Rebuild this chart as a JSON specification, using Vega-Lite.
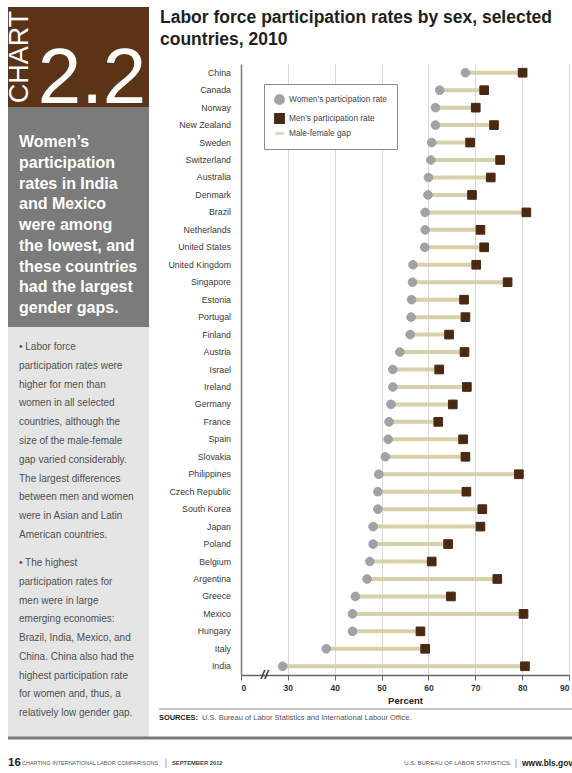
{
  "$schema": "https://vega.github.io/schema/vega-lite/v6.json",
  "background": "white",
  "padding": {"left": 5, "top": 7, "right": 0, "bottom": 0},
  "spacing": -4,
  "datasets": {
    "rates": [
      {"country": "China", "women": 67.9, "men": 80.1},
      {"country": "Canada", "women": 62.4, "men": 71.9},
      {"country": "Norway", "women": 61.5, "men": 70.1},
      {"country": "New Zealand", "women": 61.5, "men": 74.0},
      {"country": "Sweden", "women": 60.7, "men": 68.9},
      {"country": "Switzerland", "women": 60.5, "men": 75.3},
      {"country": "Australia", "women": 60.0, "men": 73.3},
      {"country": "Denmark", "women": 59.9, "men": 69.3},
      {"country": "Brazil", "women": 59.3, "men": 80.9},
      {"country": "Netherlands", "women": 59.3, "men": 71.1},
      {"country": "United States", "women": 59.2, "men": 71.9},
      {"country": "United Kingdom", "women": 56.7, "men": 70.2},
      {"country": "Singapore", "women": 56.6, "men": 76.9},
      {"country": "Estonia", "women": 56.4, "men": 67.6},
      {"country": "Portugal", "women": 56.3, "men": 67.9},
      {"country": "Finland", "women": 56.1, "men": 64.4},
      {"country": "Austria", "women": 53.9, "men": 67.7},
      {"country": "Israel", "women": 52.4, "men": 62.3},
      {"country": "Ireland", "women": 52.4, "men": 68.2},
      {"country": "Germany", "women": 52.0, "men": 65.2},
      {"country": "France", "women": 51.6, "men": 62.1},
      {"country": "Spain", "women": 51.4, "men": 67.4},
      {"country": "Slovakia", "women": 50.8, "men": 67.9},
      {"country": "Philippines", "women": 49.4, "men": 79.3},
      {"country": "Czech Republic", "women": 49.2, "men": 68.1},
      {"country": "South Korea", "women": 49.2, "men": 71.5},
      {"country": "Japan", "women": 48.2, "men": 71.1},
      {"country": "Poland", "women": 48.2, "men": 64.2},
      {"country": "Belgium", "women": 47.5, "men": 60.7},
      {"country": "Argentina", "women": 46.9, "men": 74.7},
      {"country": "Greece", "women": 44.4, "men": 64.8},
      {"country": "Mexico", "women": 43.8, "men": 80.3},
      {"country": "Hungary", "women": 43.8, "men": 58.3},
      {"country": "Italy", "women": 38.2, "men": 59.3},
      {"country": "India", "women": 28.9, "men": 80.6}
    ],
    "badge": [
      {"part": "label", "text": "CHART"},
      {"part": "number", "text": "2.2"}
    ],
    "headline": [
      {"line": 1, "text": "Women’s"},
      {"line": 2, "text": "participation"},
      {"line": 3, "text": "rates in India"},
      {"line": 4, "text": "and Mexico"},
      {"line": 5, "text": "were among"},
      {"line": 6, "text": "the lowest, and"},
      {"line": 7, "text": "these countries"},
      {"line": 8, "text": "had the largest"},
      {"line": 9, "text": "gender gaps."}
    ],
    "notes": [
      {"para": 1, "line": 1, "text": "•  Labor force"},
      {"para": 1, "line": 2, "text": "participation rates were"},
      {"para": 1, "line": 3, "text": "higher for men than"},
      {"para": 1, "line": 4, "text": "women in all selected"},
      {"para": 1, "line": 5, "text": "countries, although the"},
      {"para": 1, "line": 6, "text": "size of the male-female"},
      {"para": 1, "line": 7, "text": "gap varied considerably."},
      {"para": 1, "line": 8, "text": "The largest differences"},
      {"para": 1, "line": 9, "text": "between men and women"},
      {"para": 1, "line": 10, "text": "were in Asian and Latin"},
      {"para": 1, "line": 11, "text": "American countries."},
      {"para": 2, "line": 1, "text": "•  The highest"},
      {"para": 2, "line": 2, "text": "participation rates for"},
      {"para": 2, "line": 3, "text": "men were in large"},
      {"para": 2, "line": 4, "text": "emerging economies:"},
      {"para": 2, "line": 5, "text": "Brazil, India, Mexico, and"},
      {"para": 2, "line": 6, "text": "China. China also had the"},
      {"para": 2, "line": 7, "text": "highest participation rate"},
      {"para": 2, "line": 8, "text": "for women and, thus, a"},
      {"para": 2, "line": 9, "text": "relatively low gender gap."}
    ],
    "heading": [
      {"line": 1, "text": "Labor force participation rates by sex, selected"},
      {"line": 2, "text": "countries, 2010"}
    ],
    "sources": [
      {"part": "label", "text": "SOURCES:"},
      {"part": "body", "text": "U.S. Bureau of Labor Statistics and International Labour Office."}
    ],
    "footer": [
      {"piece": "page", "text": "16"},
      {"piece": "publication", "text": "CHARTING INTERNATIONAL LABOR COMPARISONS"},
      {"piece": "sep1", "text": "|"},
      {"piece": "date", "text": "SEPTEMBER 2012"},
      {"piece": "agency", "text": "U.S. BUREAU OF LABOR STATISTICS"},
      {"piece": "sep2", "text": "|"},
      {"piece": "site", "text": "www.bls.gov"}
    ]
  },
  "vconcat": [
    {
      "spacing": 9,
      "hconcat": [
        {
          "bounds": "flush",
          "spacing": 0,
          "vconcat": [
            {
              "width": 141,
              "height": 100,
              "view": {"fill": "#5b3418", "stroke": null},
              "data": {"name": "badge"},
              "layer": [
                {
                  "transform": [{"filter": "datum.part == 'label'"}],
                  "mark": {"type": "text", "angle": 270, "align": "center", "baseline": "alphabetic", "font": "Liberation Sans", "fontSize": 27, "color": "#ffffff", "dx": 50, "dy": 20},
                  "encoding": {
                    "x": {"datum": 0, "type": "quantitative", "scale": {"domain": [0, 1], "nice": false, "zero": false}, "axis": null},
                    "y": {"datum": 0, "type": "quantitative", "scale": {"domain": [0, 1], "nice": false, "zero": false}, "axis": null},
                    "text": {"field": "text"}
                  }
                },
                {
                  "transform": [{"filter": "datum.part == 'number'"}],
                  "mark": {"type": "text", "align": "center", "baseline": "alphabetic", "font": "Liberation Sans", "fontSize": 78, "color": "#ffffff", "dx": 84, "dy": -4},
                  "encoding": {
                    "x": {"datum": 0, "type": "quantitative", "scale": {"domain": [0, 1], "nice": false, "zero": false}, "axis": null},
                    "y": {"datum": 0, "type": "quantitative", "scale": {"domain": [0, 1], "nice": false, "zero": false}, "axis": null},
                    "text": {"field": "text"}
                  }
                }
              ]
            },
            {
              "width": 141,
              "height": 220,
              "view": {"fill": "#7b7b7b", "stroke": null},
              "data": {"name": "headline"},
              "mark": {"type": "text", "align": "left", "baseline": "alphabetic", "font": "Liberation Sans", "fontWeight": "bold", "fontSize": 16, "color": "#ffffff", "dx": 11},
              "encoding": {
                "x": {"datum": 0, "type": "quantitative", "scale": {"domain": [0, 1], "nice": false, "zero": false}, "axis": null},
                "y": {"field": "line", "type": "ordinal", "scale": {"type": "point", "range": [40, 206], "padding": 0}, "axis": null},
                "text": {"field": "text"}
              }
            },
            {
              "width": 141,
              "height": 411,
              "view": {"fill": "#e5e5e5", "stroke": null},
              "data": {"name": "notes"},
              "layer": [
                {
                  "transform": [{"filter": "datum.para == 1"}],
                  "mark": {"type": "text", "align": "left", "baseline": "alphabetic", "font": "Liberation Sans", "fontSize": 10, "color": "#505050", "dx": 11},
                  "encoding": {
                    "x": {"datum": 0, "type": "quantitative", "scale": {"domain": [0, 1], "nice": false, "zero": false}, "axis": null},
                    "y": {"field": "line", "type": "ordinal", "scale": {"type": "point", "range": [23, 211], "padding": 0}, "axis": null},
                    "text": {"field": "text"}
                  }
                },
                {
                  "transform": [{"filter": "datum.para == 2"}],
                  "mark": {"type": "text", "align": "left", "baseline": "alphabetic", "font": "Liberation Sans", "fontSize": 10, "color": "#505050", "dx": 11},
                  "encoding": {
                    "x": {"datum": 0, "type": "quantitative", "scale": {"domain": [0, 1], "nice": false, "zero": false}, "axis": null},
                    "y": {"field": "line", "type": "ordinal", "scale": {"type": "point", "range": [239, 389], "padding": 0}, "axis": null},
                    "text": {"field": "text"}
                  }
                }
              ],
              "resolve": {"scale": {"y": "independent"}}
            }
          ]
        },
        {
          "spacing": 3,
          "vconcat": [
            {
              "width": 415,
              "height": 54,
              "data": {"name": "heading"},
              "mark": {"type": "text", "align": "left", "baseline": "alphabetic", "font": "Liberation Sans", "fontWeight": "bold", "fontSize": 17.5, "color": "#231f20", "dx": 1},
              "encoding": {
                "x": {"datum": 0, "type": "quantitative", "scale": {"domain": [0, 1], "nice": false, "zero": false}, "axis": null},
                "y": {"field": "line", "type": "ordinal", "scale": {"type": "point", "range": [15.7, 38], "padding": 0}, "axis": null},
                "text": {"field": "text"}
              }
            },
            {
              "bounds": "flush",
              "spacing": 0,
              "hconcat": [
                {
                  "width": 82,
                  "height": 611,
                  "data": {"name": "rates"},
                  "mark": {"type": "text", "align": "right", "baseline": "middle", "font": "Liberation Sans", "fontSize": 8.8, "color": "#3a3a3a", "dx": -10},
                  "encoding": {
                    "x": {"datum": 1, "type": "quantitative", "scale": {"domain": [0, 1], "nice": false, "zero": false}, "axis": null},
                    "y": {"field": "country", "type": "nominal", "sort": null, "scale": {"type": "point", "padding": 0.5}, "axis": null},
                    "text": {"field": "country"}
                  }
                },
                {
                  "width": 328,
                  "height": 611,
                  "data": {"name": "rates"},
                  "layer": [
                    {
                      "mark": {"type": "rule", "color": "#d7d0a9", "strokeWidth": 4},
                      "encoding": {
                        "y": {"field": "country", "type": "nominal", "sort": null, "scale": {"paddingInner": 0, "paddingOuter": 0}, "axis": {"labels": false, "ticks": false, "title": null, "grid": false, "domainColor": "#7a7a7a", "domainWidth": 1.5}},
                        "x": {"field": "women", "type": "quantitative", "scale": {"domain": [20, 90], "nice": false, "zero": false}, "axis": {"title": "Percent", "values": [20, 30, 40, 50, 60, 70, 80, 90], "labelExpr": "datum.value == 20 ? '0' : datum.label", "grid": true, "gridColor": "#dadada", "gridWidth": 1, "domainColor": "#666666", "domainWidth": 1.5, "tickColor": "#666666", "tickSize": 5, "labelFont": "Liberation Sans", "labelFontWeight": "bold", "labelFontSize": 8.5, "labelColor": "#333333", "labelPadding": 3, "titleFont": "Liberation Sans", "titleFontWeight": "bold", "titleFontSize": 9.5, "titleColor": "#222222", "titlePadding": 4}},
                        "x2": {"field": "men"}
                      }
                    },
                    {
                      "transform": [{"fold": ["women", "men"], "as": ["series", "rate"]}],
                      "mark": {"type": "point", "filled": true, "opacity": 1, "size": 75, "strokeWidth": 1},
                      "encoding": {
                        "y": {"field": "country", "type": "nominal", "sort": null, "scale": {"paddingInner": 0, "paddingOuter": 0}, "axis": {"labels": false, "ticks": false, "title": null, "grid": false, "domainColor": "#7a7a7a", "domainWidth": 1.5}},
                        "x": {"field": "rate", "type": "quantitative", "axis": {"title": "Percent", "values": [20, 30, 40, 50, 60, 70, 80, 90], "labelExpr": "datum.value == 20 ? '0' : datum.label", "grid": true, "gridColor": "#dadada", "gridWidth": 1, "domainColor": "#666666", "domainWidth": 1.5, "tickColor": "#666666", "tickSize": 5, "labelFont": "Liberation Sans", "labelFontWeight": "bold", "labelFontSize": 8.5, "labelColor": "#333333", "labelPadding": 3, "titleFont": "Liberation Sans", "titleFontWeight": "bold", "titleFontSize": 9.5, "titleColor": "#222222", "titlePadding": 4}},
                        "shape": {"field": "series", "type": "nominal", "scale": {"domain": ["women", "men", "gap"], "range": ["circle", "square", "stroke"]}, "legend": {"title": null, "orient": "none", "legendX": 256, "legendY": 77, "padding": 10, "strokeColor": "#8a8a8a", "fillColor": "#ffffff", "labelFont": "Liberation Sans", "labelFontSize": 8.3, "labelColor": "#444444", "rowPadding": 0, "symbolSize": 70, "symbolStrokeWidth": 2.5, "labelExpr": "datum.label == 'women' ? 'Women’s participation rate' : datum.label == 'men' ? 'Men’s participation rate' : 'Male-female gap'"}},
                        "fill": {"field": "series", "type": "nominal", "scale": {"domain": ["women", "men", "gap"], "range": ["#a2a2a6", "#4a2912", "#d7d0a9"]}, "legend": {"title": null, "orient": "none", "legendX": 256, "legendY": 77, "padding": 10, "strokeColor": "#8a8a8a", "fillColor": "#ffffff", "labelFont": "Liberation Sans", "labelFontSize": 8.3, "labelColor": "#444444", "rowPadding": 0, "symbolSize": 70, "symbolStrokeWidth": 2.5, "labelExpr": "datum.label == 'women' ? 'Women’s participation rate' : datum.label == 'men' ? 'Men’s participation rate' : 'Male-female gap'"}},
                        "stroke": {"field": "series", "type": "nominal", "scale": {"domain": ["women", "men", "gap"], "range": ["#a2a2a6", "#4a2912", "#d7d0a9"]}, "legend": {"title": null, "orient": "none", "legendX": 256, "legendY": 77, "padding": 10, "strokeColor": "#8a8a8a", "fillColor": "#ffffff", "labelFont": "Liberation Sans", "labelFontSize": 8.3, "labelColor": "#444444", "rowPadding": 0, "symbolSize": 70, "symbolStrokeWidth": 2.5, "labelExpr": "datum.label == 'women' ? 'Women’s participation rate' : datum.label == 'men' ? 'Men’s participation rate' : 'Male-female gap'"}}
                      }
                    },
                    {
                      "data": {"values": [{"symbol": "//"}]},
                      "mark": {"type": "text", "font": "Liberation Sans", "fontSize": 13, "fontWeight": "bold", "fontStyle": "italic", "color": "#333333", "baseline": "middle", "align": "center", "dy": 9},
                      "encoding": {
                        "x": {"datum": 25, "type": "quantitative"},
                        "y": {"datum": "India", "type": "nominal"},
                        "text": {"field": "symbol"}
                      }
                    }
                  ]
                }
              ]
            },
            {
              "width": 415,
              "height": 24,
              "data": {"name": "sources"},
              "layer": [
                {
                  "transform": [{"filter": "datum.part == 'label'"}],
                  "mark": {"type": "rule", "color": "#c4c4c4", "strokeWidth": 2},
                  "encoding": {
                    "x": {"datum": 0, "type": "quantitative", "scale": {"domain": [0, 1], "nice": false, "zero": false}, "axis": null},
                    "x2": {"datum": 1},
                    "y": {"datum": 1, "type": "quantitative", "scale": {"domain": [0, 1], "nice": false, "zero": false}, "axis": null}
                  }
                },
                {
                  "transform": [{"filter": "datum.part == 'label'"}],
                  "mark": {"type": "text", "align": "left", "baseline": "alphabetic", "font": "Liberation Sans", "fontWeight": "bold", "fontSize": 7.4, "color": "#222222", "dy": 11},
                  "encoding": {
                    "x": {"datum": 0, "type": "quantitative", "scale": {"domain": [0, 1], "nice": false, "zero": false}, "axis": null},
                    "y": {"datum": 1, "type": "quantitative", "scale": {"domain": [0, 1], "nice": false, "zero": false}, "axis": null},
                    "text": {"field": "text"}
                  }
                },
                {
                  "transform": [{"filter": "datum.part == 'body'"}],
                  "mark": {"type": "text", "align": "left", "baseline": "alphabetic", "font": "Liberation Sans", "fontSize": 7.5, "color": "#555555", "dx": 43, "dy": 11},
                  "encoding": {
                    "x": {"datum": 0, "type": "quantitative", "scale": {"domain": [0, 1], "nice": false, "zero": false}, "axis": null},
                    "y": {"datum": 1, "type": "quantitative", "scale": {"domain": [0, 1], "nice": false, "zero": false}, "axis": null},
                    "text": {"field": "text"}
                  }
                }
              ]
            }
          ]
        }
      ]
    },
    {
      "width": 567,
      "height": 33,
      "data": {"name": "footer"},
      "encoding": {
        "x": {"datum": 0, "type": "quantitative", "scale": {"domain": [0, 1], "nice": false, "zero": false}, "axis": null},
        "y": {"datum": 1, "type": "quantitative", "scale": {"domain": [0, 1], "nice": false, "zero": false}, "axis": null},
        "text": {"field": "text"}
      },
      "layer": [
        {
          "transform": [{"filter": "datum.piece == 'page'"}],
          "mark": {"type": "rule", "color": "#7a7a7a", "strokeWidth": 3},
          "encoding": {"x2": {"datum": 1}, "text": null}
        },
        {
          "transform": [{"filter": "datum.piece == 'page'"}],
          "mark": {"type": "text", "align": "left", "baseline": "alphabetic", "font": "Liberation Sans", "fontWeight": "bold", "fontSize": 11.5, "color": "#222222", "dy": 28}
        },
        {
          "transform": [{"filter": "datum.piece == 'publication'"}],
          "mark": {"type": "text", "align": "left", "baseline": "alphabetic", "font": "Liberation Sans", "fontSize": 5.5, "color": "#555555", "dx": 14, "dy": 27}
        },
        {
          "transform": [{"filter": "datum.piece == 'sep1'"}],
          "mark": {"type": "text", "align": "center", "baseline": "alphabetic", "font": "Liberation Sans", "fontSize": 9, "color": "#888888", "dx": 158, "dy": 28}
        },
        {
          "transform": [{"filter": "datum.piece == 'date'"}],
          "mark": {"type": "text", "align": "left", "baseline": "alphabetic", "font": "Liberation Sans", "fontWeight": "bold", "fontSize": 5.8, "color": "#444444", "dx": 164, "dy": 27}
        },
        {
          "transform": [{"filter": "datum.piece == 'agency'"}],
          "mark": {"type": "text", "align": "right", "baseline": "alphabetic", "font": "Liberation Sans", "fontSize": 6, "color": "#555555", "dx": -65, "dy": 27},
          "encoding": {"x": {"datum": 1, "type": "quantitative", "scale": {"domain": [0, 1], "nice": false, "zero": false}, "axis": null}}
        },
        {
          "transform": [{"filter": "datum.piece == 'sep2'"}],
          "mark": {"type": "text", "align": "center", "baseline": "alphabetic", "font": "Liberation Sans", "fontSize": 9, "color": "#888888", "dx": -59, "dy": 28},
          "encoding": {"x": {"datum": 1, "type": "quantitative", "scale": {"domain": [0, 1], "nice": false, "zero": false}, "axis": null}}
        },
        {
          "transform": [{"filter": "datum.piece == 'site'"}],
          "mark": {"type": "text", "align": "right", "baseline": "alphabetic", "font": "Liberation Sans", "fontWeight": "bold", "fontSize": 8.4, "color": "#222222", "dx": -2, "dy": 28},
          "encoding": {"x": {"datum": 1, "type": "quantitative", "scale": {"domain": [0, 1], "nice": false, "zero": false}, "axis": null}}
        }
      ]
    }
  ],
  "config": {
    "view": {"stroke": null},
    "font": "Liberation Sans"
  }
}
